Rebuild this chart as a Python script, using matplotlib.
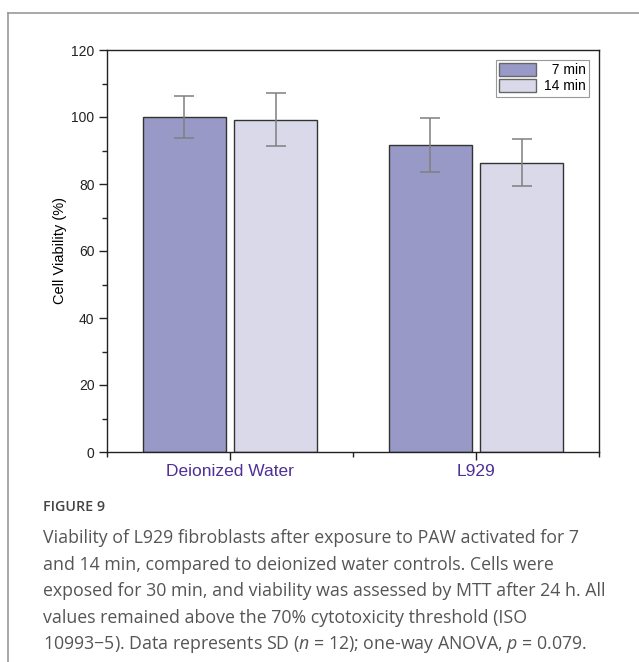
import numpy as np
import matplotlib
matplotlib.use("Agg")
import matplotlib.pyplot as plt
from matplotlib.ticker import MultipleLocator, FixedLocator

# data
groups = ["Deionized Water", "L929"]
series = ["7 min", "14 min"]
mean_7 = [100.0, 91.6]
sd_7 = [6.2, 8.1]
mean_14 = [99.2, 86.3]
sd_14 = [7.9, 7.0]

caption_title = "FIGURE 9"
caption_lines = [
    "Viability of L929 fibroblasts after exposure to PAW activated for 7",
    "and 14 min, compared to deionized water controls. Cells were",
    "exposed for 30 min, and viability was assessed by MTT after 24 h. All",
    "values remained above the 70% cytotoxicity threshold (ISO",
    "10993\u22125). Data represents SD ($\\it{n}$ = 12); one-way ANOVA, $\\it{p}$ = 0.079.",
]

COL_7 = "#9999c7"
COL_14 = "#d9d9ea"
TICK_PURPLE = "#4f2f96"

plt.rcParams["font.family"] = ["Liberation Sans", "DejaVu Sans"]
plt.rcParams["mathtext.fontset"] = "custom"
plt.rcParams["mathtext.it"] = "Open Sans:italic"
plt.rcParams["mathtext.rm"] = "Open Sans"

fig = plt.figure(figsize=(6.39, 6.62), dpi=100)

# outer frame (only left and top edges are visible in the crop)
fig.add_artist(plt.Line2D([8 / 639, 8 / 639], [0, 1 - 13 / 662], transform=fig.transFigure,
                          color="#9a9a9a", lw=1.2))
fig.add_artist(plt.Line2D([8 / 639, 1], [1 - 13 / 662, 1 - 13 / 662], transform=fig.transFigure,
                          color="#9a9a9a", lw=1.2))

ax = fig.add_axes([107 / 639, 1 - 452 / 662, (599 - 107) / 639, (452 - 50) / 662])

x = np.arange(1, len(groups) + 1)
w = 0.34
off = 0.185
err_kw = dict(ecolor="#7f7f7f", elinewidth=1.1, capsize=7, capthick=1.1)
ax.bar(x - off, mean_7, w, yerr=sd_7, color=COL_7, edgecolor="#333333", linewidth=1.0,
       label=series[0], error_kw=err_kw)
ax.bar(x + off, mean_14, w, yerr=sd_14, color=COL_14, edgecolor="#333333", linewidth=1.0,
       label=series[1], error_kw=err_kw)

ax.set_xlim(0.5, 2.5)
ax.set_ylim(0, 120)
ax.set_xticks(x)
ax.set_xticklabels(groups)
ax.xaxis.set_minor_locator(FixedLocator([0.5, 1.5, 2.5]))
ax.yaxis.set_major_locator(MultipleLocator(20))
ax.yaxis.set_minor_locator(MultipleLocator(10))
ax.tick_params(axis="both", which="major", direction="out", length=6, width=1.0, colors="#222222", pad=3)
ax.tick_params(axis="x", which="major", labelcolor=TICK_PURPLE, labelsize=12.5, pad=3)
ax.tick_params(axis="y", which="major", labelsize=10)
ax.tick_params(axis="both", which="minor", direction="out", length=3.6, width=1.0, colors="#222222")
for s in ax.spines.values():
    s.set_linewidth(1.0)
    s.set_color("#222222")
ax.set_ylabel("Cell Viability (%)", fontsize=10.5, labelpad=3)

leg = ax.legend(["  7 min", "14 min"], loc="upper right", fontsize=10, fancybox=False,
                edgecolor="#999999", framealpha=1, handlelength=2.6, handleheight=1.0,
                borderpad=0.25, labelspacing=0.15, handletextpad=0.6, borderaxespad=0.7)
leg.get_frame().set_linewidth(0.8)
for p in leg.get_patches():
    p.set_edgecolor("#666666")

# caption
fig.text(43 / 639, 1 - 507 / 662, caption_title, fontsize=10.3, color="#444444",
         family="Open Sans", fontweight="semibold", va="center")
for i, line in enumerate(caption_lines):
    fig.text(43 / 639, 1 - (538 + i * 26.7) / 662, line, fontsize=12.8, color="#555555",
             family="Open Sans", va="center")

fig.savefig("out.png", dpi=100)
